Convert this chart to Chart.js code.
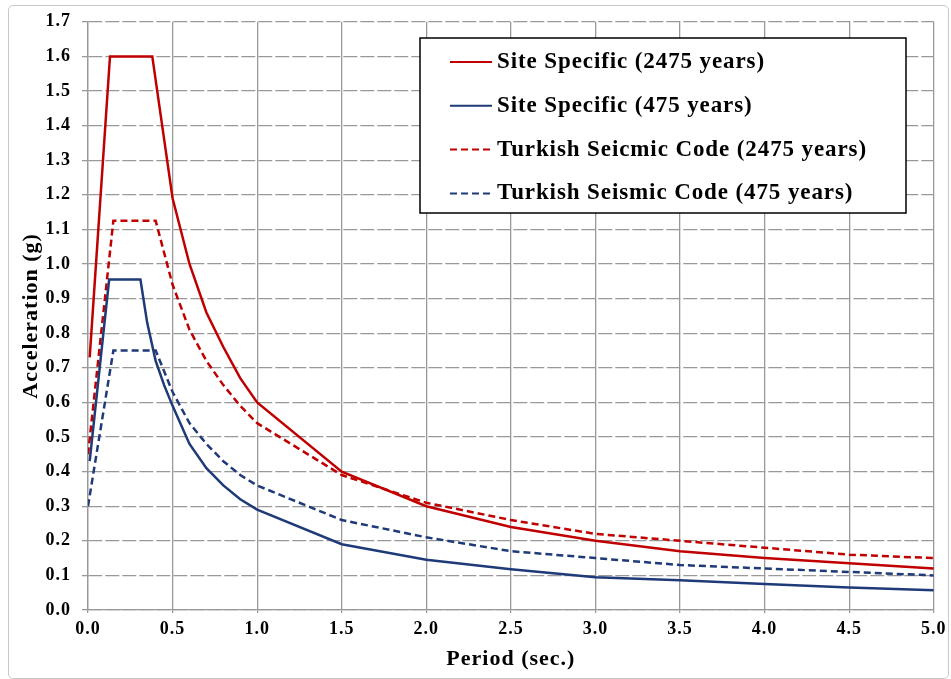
<!DOCTYPE html>
<html>
<head>
<meta charset="utf-8">
<script src="https://cdn.jsdelivr.net/npm/chart.js@4"></script>
<style>
  body { margin: 0; background: #fff; }
  #wrap { position: relative; width: 951px; height: 679px; }
  #frame { position: absolute; left: 8px; top: 5px; width: 939px; height: 672px;
           border: 1px solid #c8c8c8; border-radius: 5px; pointer-events: none; }
</style>
</head>
<body>
<div id="wrap">
  <canvas id="chart" width="951" height="679"></canvas>
  <div id="frame"></div>
</div>
<script>
// Site Specific (2475 years)
const siteT2475 = [0.01, 0.13, 0.38, 0.5, 0.6, 0.7, 0.8, 0.9, 1.0, 1.5, 2.0, 2.5, 3.0, 3.5, 4.0, 4.5, 5.0];
const siteA2475 = [0.73, 1.60, 1.60, 1.19, 1.00, 0.86, 0.76, 0.67, 0.60, 0.40, 0.30, 0.24, 0.20, 0.17, 0.15, 0.135, 0.12];

// Site Specific (475 years)
const siteT475 = [0.01, 0.125, 0.31, 0.35, 0.4, 0.45, 0.5, 0.6, 0.7, 0.8, 0.9, 1.0, 1.5, 2.0, 2.5, 3.0, 3.5, 4.0, 4.5, 5.0];
const siteA475 = [0.43, 0.955, 0.955, 0.83, 0.72, 0.65, 0.59, 0.48, 0.41, 0.36, 0.32, 0.29, 0.19, 0.145, 0.118, 0.095, 0.086, 0.075, 0.065, 0.057];

// Turkish code (2475 years)
const codeT2475 = [0.0, 0.15, 0.4, 0.5, 0.6, 0.7, 0.8, 0.9, 1.0, 1.5, 2.0, 2.5, 3.0, 3.5, 4.0, 4.5, 5.0];
const codeA2475 = [0.45, 1.125, 1.125, 0.94, 0.81, 0.72, 0.65, 0.59, 0.54, 0.39, 0.31, 0.26, 0.22, 0.20, 0.18, 0.16, 0.15];

// Turkish code (475 years)
const codeT475 = [0.0, 0.15, 0.4, 0.5, 0.6, 0.7, 0.8, 0.9, 1.0, 1.5, 2.0, 2.5, 3.0, 3.5, 4.0, 4.5, 5.0];
const codeA475 = [0.30, 0.75, 0.75, 0.63, 0.54, 0.48, 0.43, 0.39, 0.36, 0.26, 0.21, 0.17, 0.15, 0.13, 0.12, 0.11, 0.10];

const labels = [
    'Site Specific (2475 years)',
    'Site Specific (475 years)',
    'Turkish Seicmic Code (2475 years)',
    'Turkish Seismic Code (475 years)'
];

const RED = '#c00000';
const BLUE = '#1f3a78';
const FONT = '"Liberation Serif", "Times New Roman", serif';

function pts(t, a) {
    let out = [];
    for (let i = 0; i < t.length; i++)
        out.push({x: t[i], y: a[i]});
    return out;
}

function series(label, t, a, color, dash) {
    return {
        label: label,
        data: pts(t, a),
        borderColor: color,
        borderWidth: 2.5,
        borderDash: dash,
        pointRadius: 0,
        showLine: true,
        fill: false,
        tension: 0
    };
}

// the original text is set a bit wider than Liberation Serif
const wideText = {
    id: 'wideText',
    beforeDraw(chart) {
        chart.ctx.letterSpacing = '1px';
    }
};

// legend box drawn inside the plot, like the original
const boxLegend = {
    id: 'boxLegend',
    afterDatasetsDraw(chart) {
        const ctx = chart.ctx;
        const x0 = 420, y0 = 38, w = 486, h = 175;
        ctx.save();
        ctx.fillStyle = '#fff';
        ctx.fillRect(x0, y0, w, h);
        ctx.strokeStyle = '#000';
        ctx.lineWidth = 1.5;
        ctx.strokeRect(x0, y0, w, h);
        ctx.font = 'bold 23px ' + FONT;
        ctx.letterSpacing = '0.9px';
        ctx.textBaseline = 'middle';
        ctx.fillStyle = '#000';
        chart.data.datasets.forEach((ds, i) => {
            const y = 62 + i * 43.8;
            ctx.beginPath();
            ctx.strokeStyle = ds.borderColor;
            ctx.lineWidth = 2;
            ctx.setLineDash(ds.borderDash || []);
            ctx.moveTo(450, y);
            ctx.lineTo(492, y);
            ctx.stroke();
            ctx.setLineDash([]);
            ctx.fillText(ds.label, 497, y);
        });
        ctx.restore();
    }
};

new Chart('chart', {
    type: 'scatter',
    data: {
        datasets: [
            series(labels[0], siteT2475, siteA2475, RED, []),
            series(labels[1], siteT475, siteA475, BLUE, []),
            series(labels[2], codeT2475, codeA2475, RED, [7, 4]),
            series(labels[3], codeT475, codeA475, BLUE, [7, 4])
        ]
    },
    options: {
        responsive: false,
        animation: false,
        layout: { padding: { left: 0, top: 18, right: 13, bottom: 0 } },
        plugins: {
            legend: { display: false },
            tooltip: { enabled: false }
        },
        scales: {
            x: {
                type: 'linear',
                min: 0,
                max: 5,
                afterFit: s => { s.height = 69; },
                ticks: {
                    stepSize: 0.5,
                    color: '#000',
                    padding: 6,
                    maxRotation: 0,
                    font: { family: FONT, size: 18, weight: 'bold' },
                    callback: v => v.toFixed(1)
                },
                grid: { color: '#999', lineWidth: 1.3, tickLength: 3 },
                border: { color: '#999', width: 1.3 },
                title: {
                    display: true,
                    text: 'Period (sec.)',
                    color: '#000',
                    padding: { top: 0, bottom: 6 },
                    font: { family: FONT, size: 22, weight: 'bold' }
                }
            },
            y: {
                min: 0,
                max: 1.7,
                afterFit: s => { s.width = 88; },
                ticks: {
                    stepSize: 0.1,
                    color: '#000',
                    padding: 11,
                    font: { family: FONT, size: 18, weight: 'bold' },
                    callback: v => v.toFixed(1)
                },
                grid: { color: '#999', lineWidth: 1.3, tickLength: 6 },
                border: { color: '#999', width: 1.3, dash: [14, 3] },
                title: {
                    display: true,
                    text: 'Acceleration (g)',
                    color: '#000',
                    padding: { top: 18, bottom: 0 },
                    font: { family: FONT, size: 22, weight: 'bold' }
                }
            }
        }
    },
    plugins: [wideText, boxLegend]
});
</script>
</body>
</html>
